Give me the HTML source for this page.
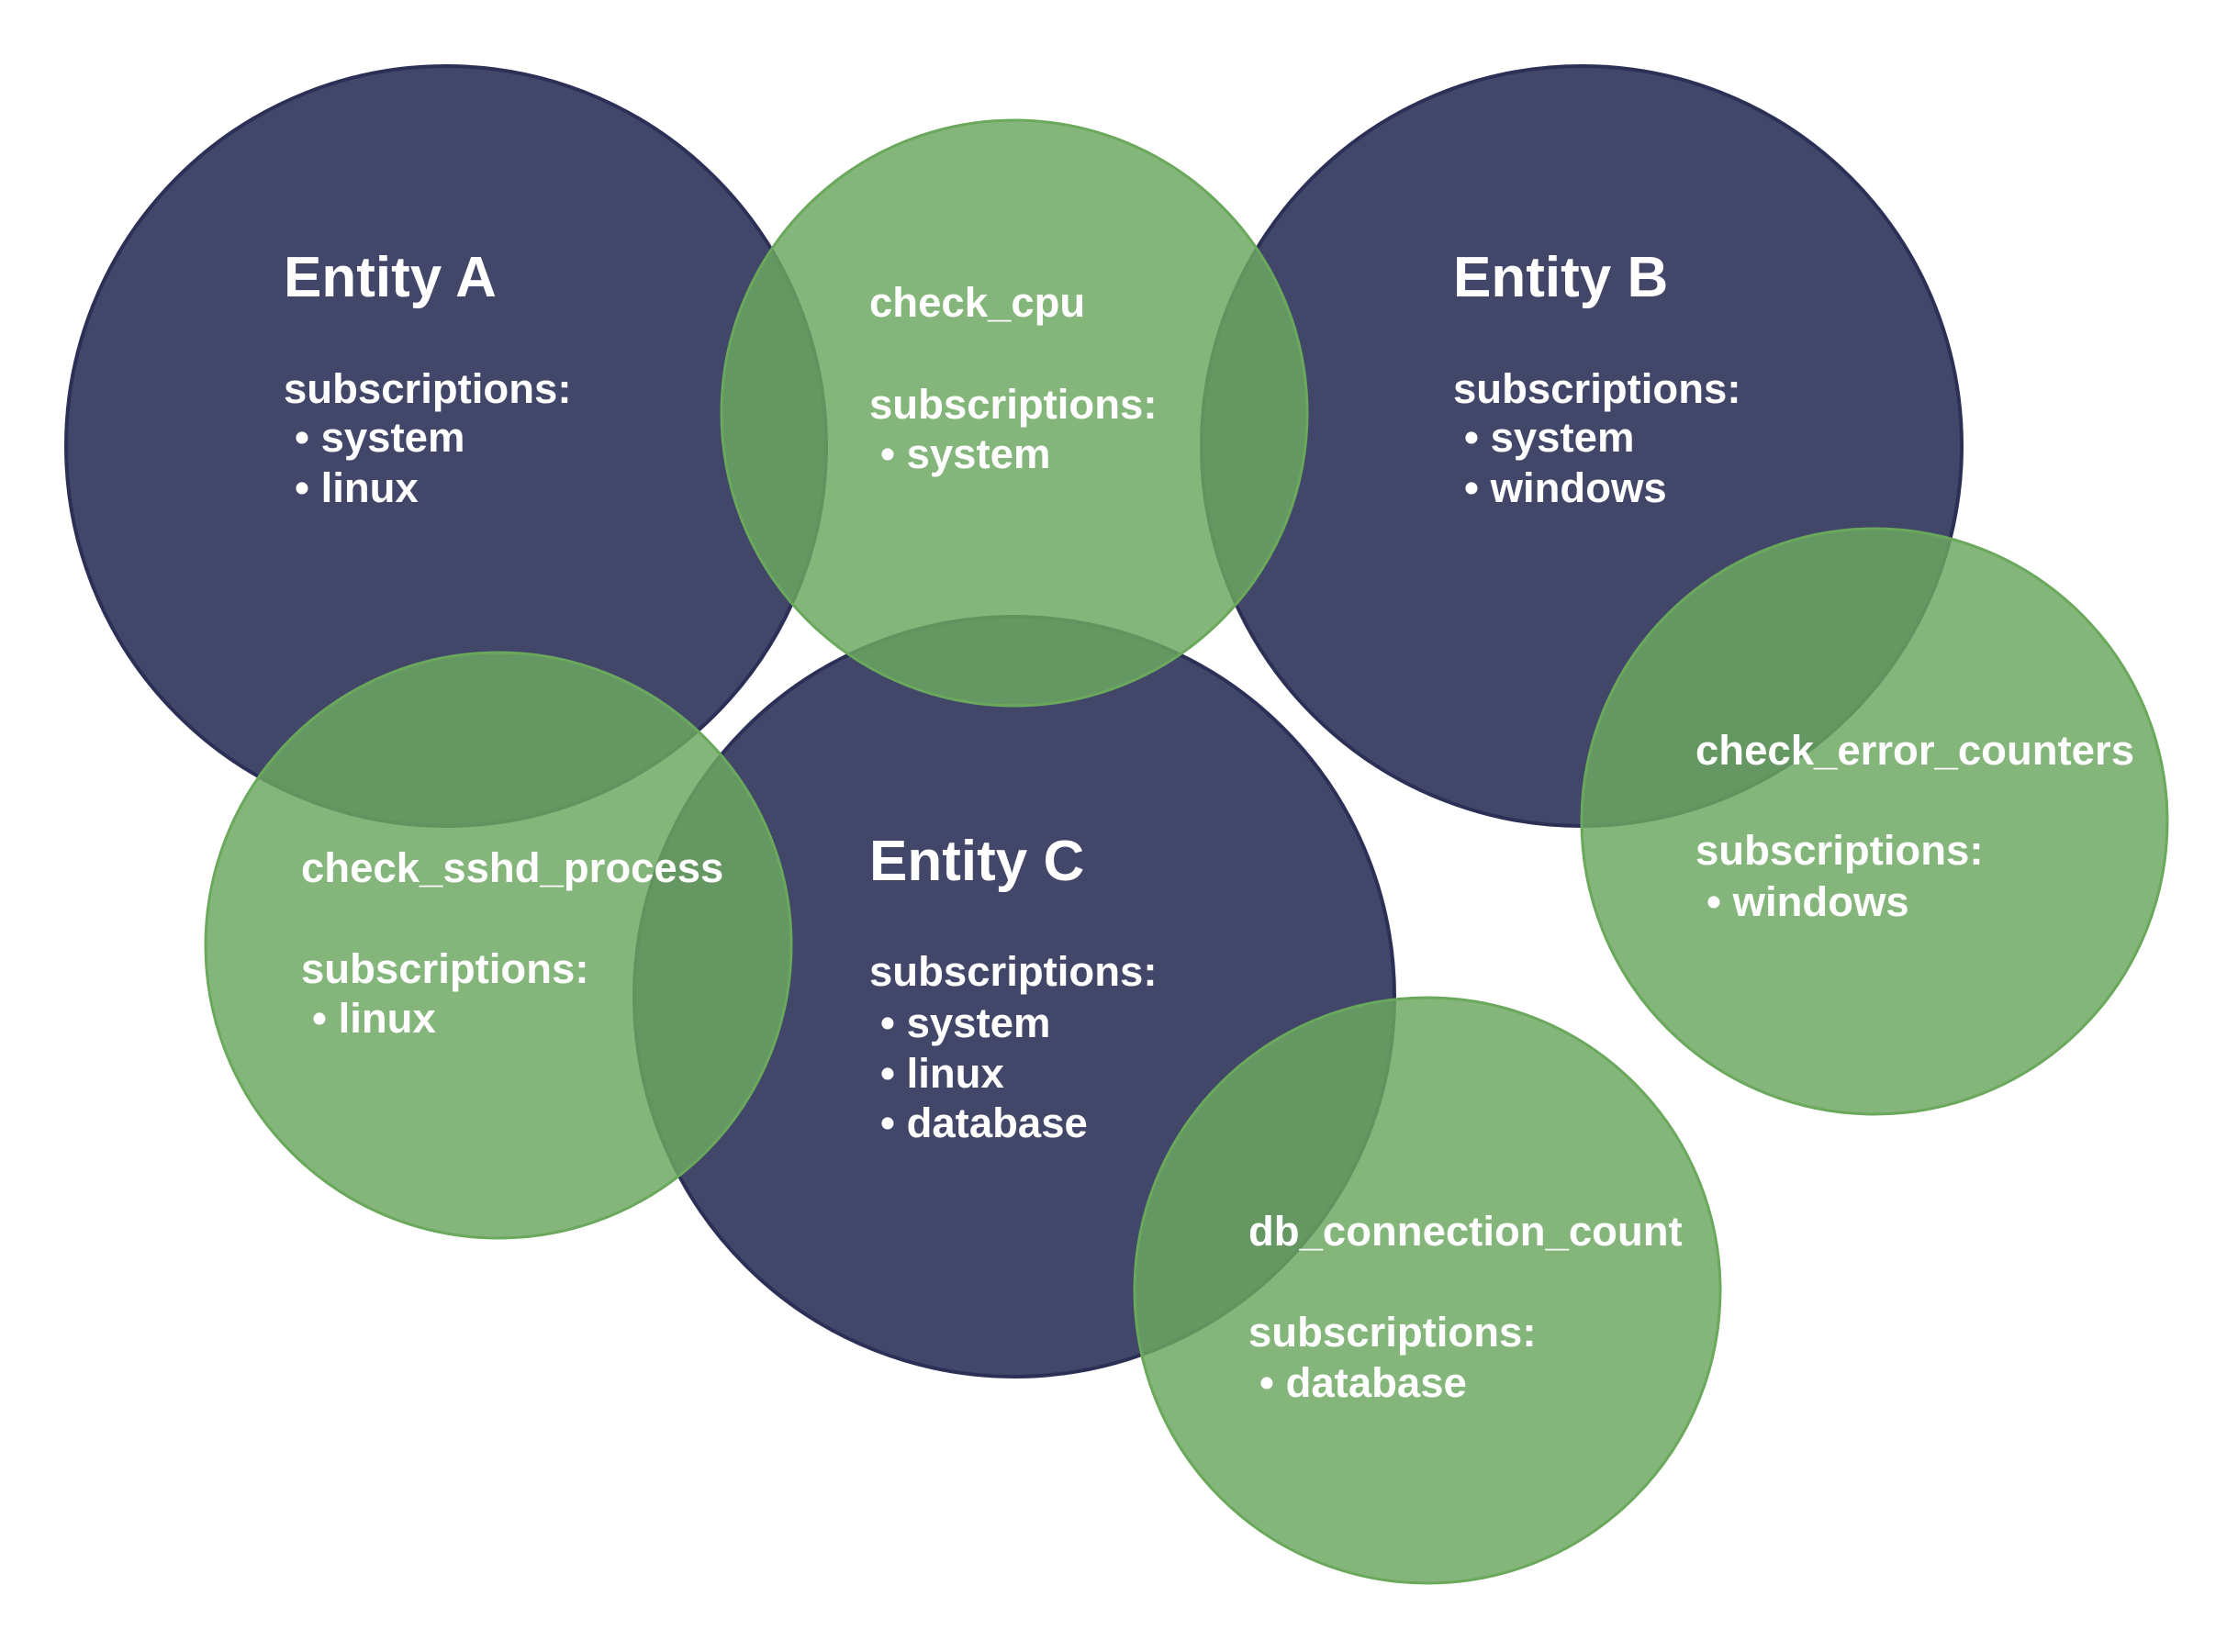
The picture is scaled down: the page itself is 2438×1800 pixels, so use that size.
<!DOCTYPE html>
<html><head><meta charset="utf-8"><style>html,body{margin:0;padding:0;background:#fff}svg{display:block}</style></head>
<body>
<svg width="2438" height="1800" viewBox="0 0 2438 1800" xmlns="http://www.w3.org/2000/svg">
<g fill="#424769" stroke="#2c3057" stroke-width="4">
<circle cx="486" cy="486" r="414"/>
<circle cx="1723" cy="486" r="414"/>
<circle cx="1105" cy="1086" r="414"/>
</g>
<g fill="rgb(109,167,97)" fill-opacity="0.84" stroke="#6aa85c" stroke-width="3">
<circle cx="1105" cy="450" r="319"/>
<circle cx="2042" cy="895" r="319"/>
<circle cx="543" cy="1030" r="319"/>
<circle cx="1555" cy="1406" r="319"/>
</g>
<g fill="#fff" font-family="Liberation Sans, sans-serif" font-weight="bold" font-size="45.5">
<text x="309" y="323" font-size="62">Entity A</text>
<text x="309" y="439">subscriptions:</text>
<text x="321" y="492">• system</text>
<text x="321" y="547">• linux</text>

<text x="1583" y="323" font-size="62">Entity B</text>
<text x="1583" y="439">subscriptions:</text>
<text x="1595" y="492">• system</text>
<text x="1595" y="547">• windows</text>

<text x="947" y="959" font-size="62">Entity C</text>
<text x="947" y="1074">subscriptions:</text>
<text x="959" y="1130">• system</text>
<text x="959" y="1185">• linux</text>
<text x="959" y="1239">• database</text>

<text x="947" y="345">check_cpu</text>
<text x="947" y="456">subscriptions:</text>
<text x="959" y="510">• system</text>

<text x="1847" y="833">check_error_counters</text>
<text x="1847" y="942">subscriptions:</text>
<text x="1859" y="998">• windows</text>

<text x="328" y="961">check_sshd_process</text>
<text x="328" y="1071">subscriptions:</text>
<text x="340" y="1125">• linux</text>

<text x="1360" y="1357">db_connection_count</text>
<text x="1360" y="1467">subscriptions:</text>
<text x="1372" y="1522">• database</text>
</g>
</svg>
</body></html>
